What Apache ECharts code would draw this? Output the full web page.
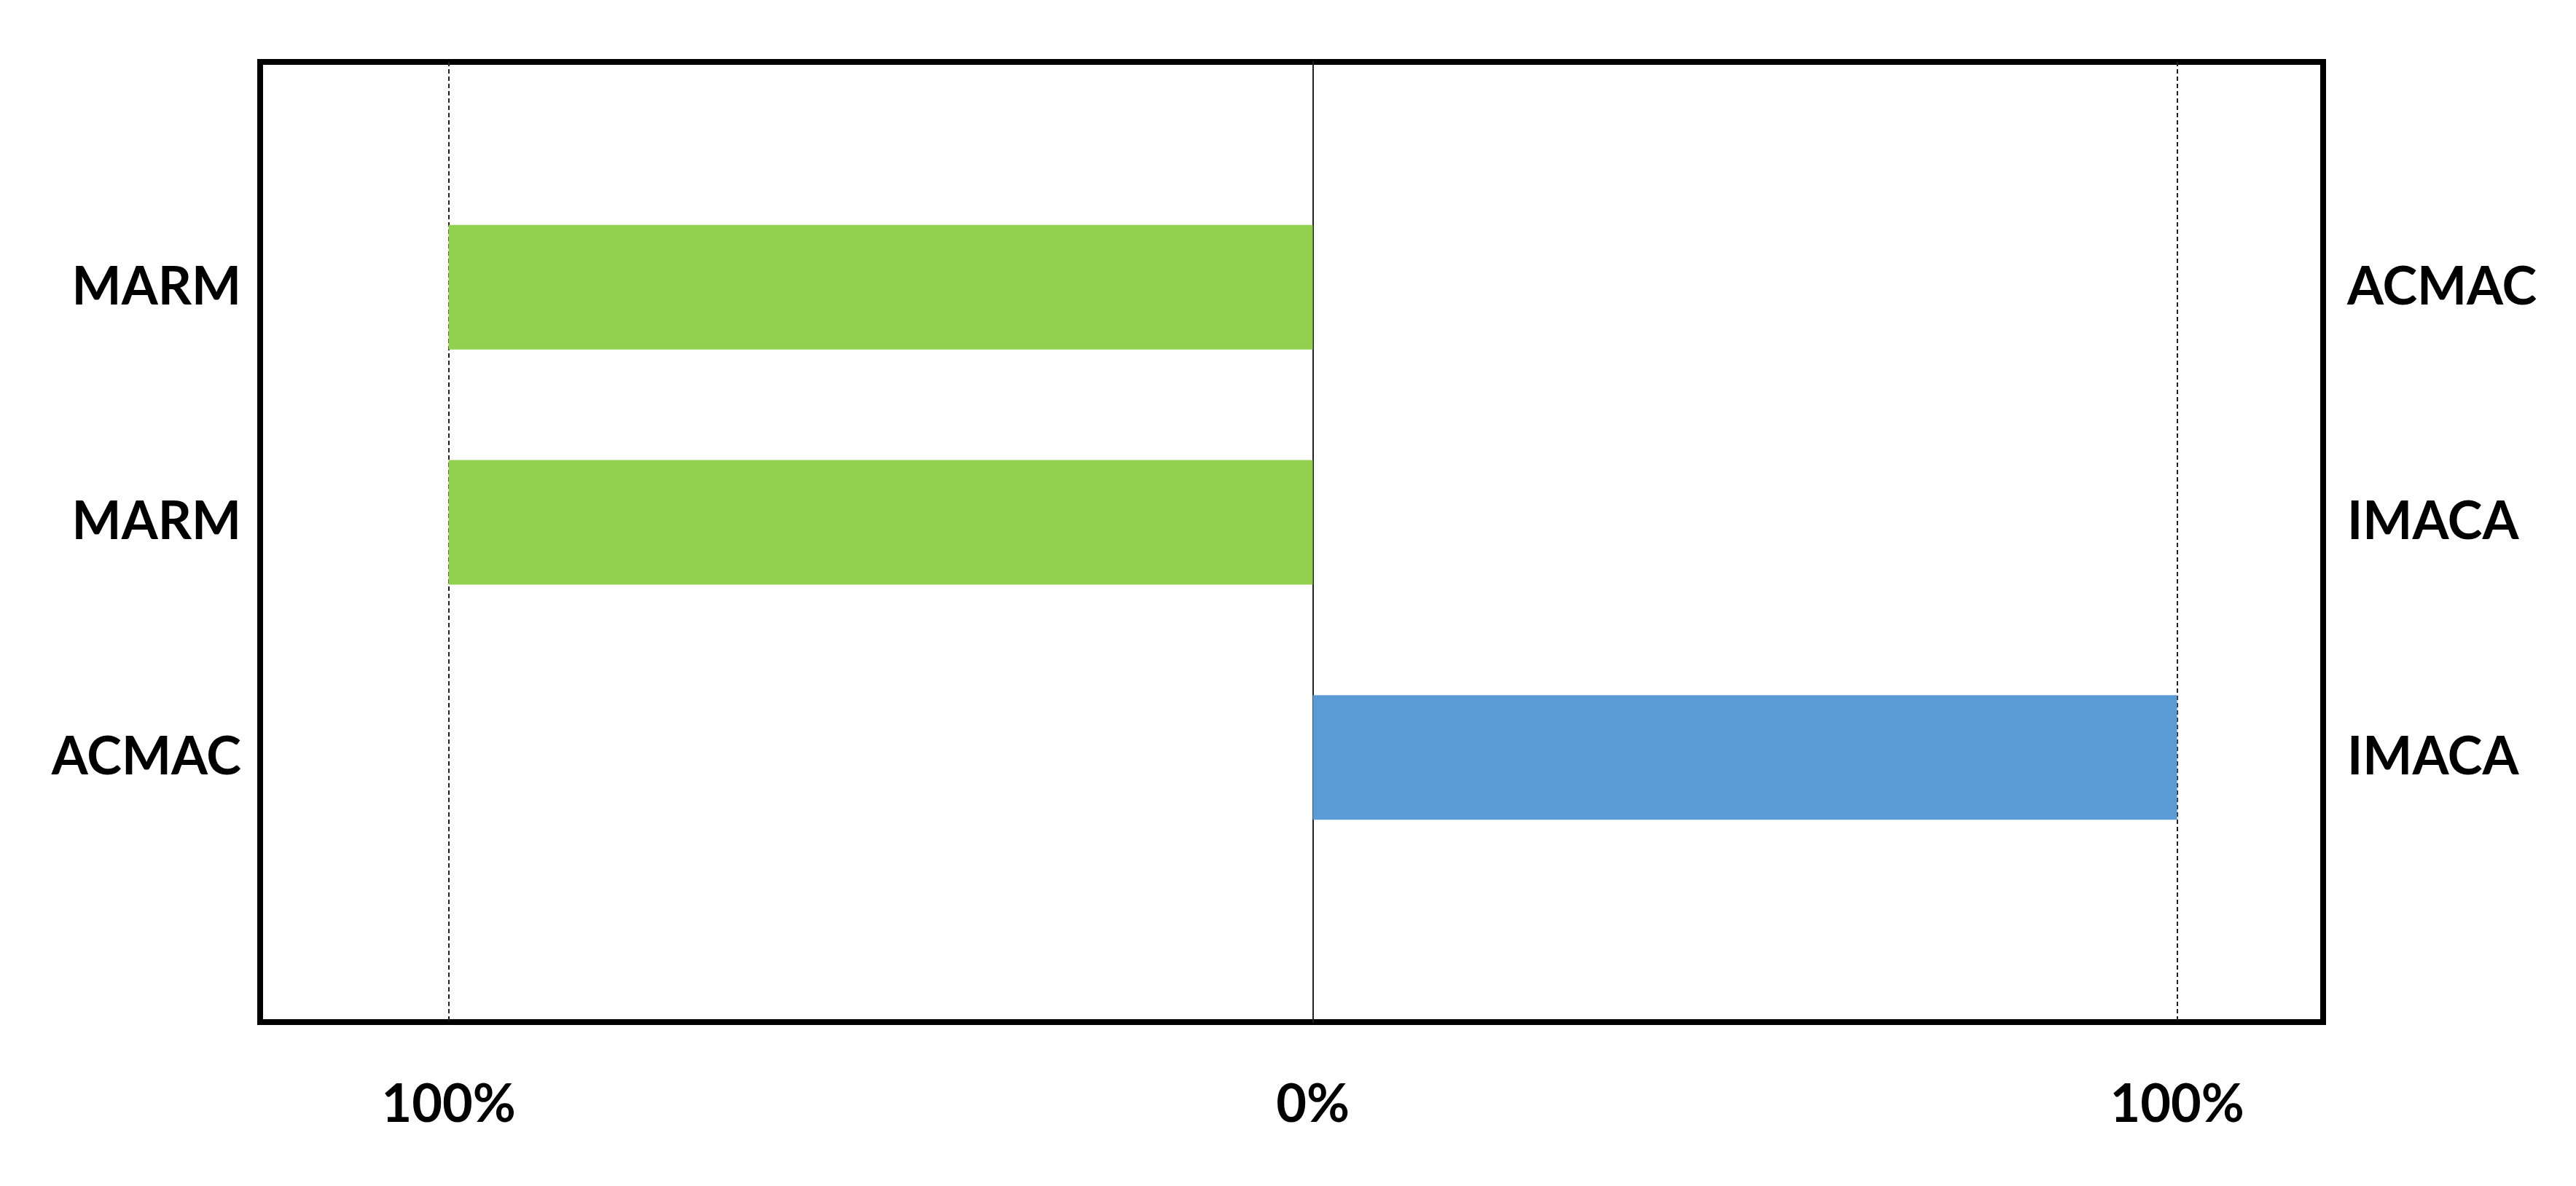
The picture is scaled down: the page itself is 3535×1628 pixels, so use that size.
<!DOCTYPE html>
<html>
<head>
<meta charset="utf-8">
<script src="https://cdn.jsdelivr.net/npm/echarts@6/dist/echarts.min.js"></script>
<style>
  html, body { margin: 0; padding: 0; background: #fff; }
  #myChart { width: 3535px; height: 1628px; }
</style>
</head>
<body>
<div id="myChart"></div>
<script>
  // rows top to bottom
  var leftLabels = ['MARM', 'MARM', 'ACMAC']
  var rightLabels = ['ACMAC', 'IMACA', 'IMACA']
  var leftShare = [100, 100, 0]    // green, drawn to the left
  var rightShare = [0, 0, 100]     // blue, drawn to the right
  var tickValues = [-100, 0, 100]
  var xMin = -121.8
  var xMax = 116.9

  var labelFont = {
    fontFamily: 'Lato',
    fontWeight: 'bold',
    fontSize: 72,
    color: '#000'
  }

  var myChart = echarts.init(document.getElementById('myChart'))
  var option = {
    animation: false,
    backgroundColor: '#fff',
    grid: [
      { // outer box with the guide lines
        left: 357, right: 347, top: 85, bottom: 225,
        show: true,
        borderColor: '#000',
        borderWidth: 8,
        backgroundColor: 'transparent'
      },
      { // band for the bars
        left: 357, right: 347, top: 233, bottom: 427
      }
    ],
    xAxis: [
      {
        gridIndex: 0,
        type: 'value',
        min: xMin,
        max: xMax,
        axisLine: { show: false },
        axisTick: { show: false, customValues: tickValues },
        axisLabel: Object.assign({
          customValues: tickValues,
          margin: 78,
          formatter: function (v) { return Math.abs(v) + '%' }
        }, labelFont),
        splitLine: {
          show: true,
          lineStyle: { color: '#222', width: 2, type: [6, 4] }
        }
      },
      {
        gridIndex: 1,
        type: 'value',
        min: xMin,
        max: xMax,
        show: false
      }
    ],
    yAxis: [
      {
        gridIndex: 0,
        type: 'value',
        min: 0,
        max: 1,
        axisLine: { show: true, onZero: true, lineStyle: { color: '#222', width: 2 } },
        axisTick: { show: false },
        axisLabel: { show: false },
        splitLine: { show: false }
      },
      {
        gridIndex: 1,
        type: 'category',
        inverse: true,
        position: 'left',
        data: leftLabels,
        axisLine: { show: false },
        axisTick: { show: false },
        axisLabel: Object.assign({ margin: 26, padding: [8, 0, 0, 0] }, labelFont)
      },
      {
        gridIndex: 1,
        type: 'category',
        inverse: true,
        position: 'right',
        data: rightLabels,
        axisLine: { show: false },
        axisTick: { show: false },
        axisLabel: Object.assign({ margin: 33, padding: [8, 0, 0, 0] }, labelFont)
      }
    ],
    series: [
      {
        name: 'left',
        type: 'bar',
        xAxisIndex: 1,
        yAxisIndex: 1,
        stack: 'total',
        barWidth: 171,
        itemStyle: { color: '#92D050' },
        data: leftShare.map(function (v) { return -v })
      },
      {
        name: 'right',
        type: 'bar',
        xAxisIndex: 1,
        yAxisIndex: 1,
        stack: 'total',
        barWidth: 171,
        itemStyle: { color: '#5B9BD5' },
        data: rightShare
      }
    ]
  }
  myChart.setOption(option)
</script>
</body>
</html>
